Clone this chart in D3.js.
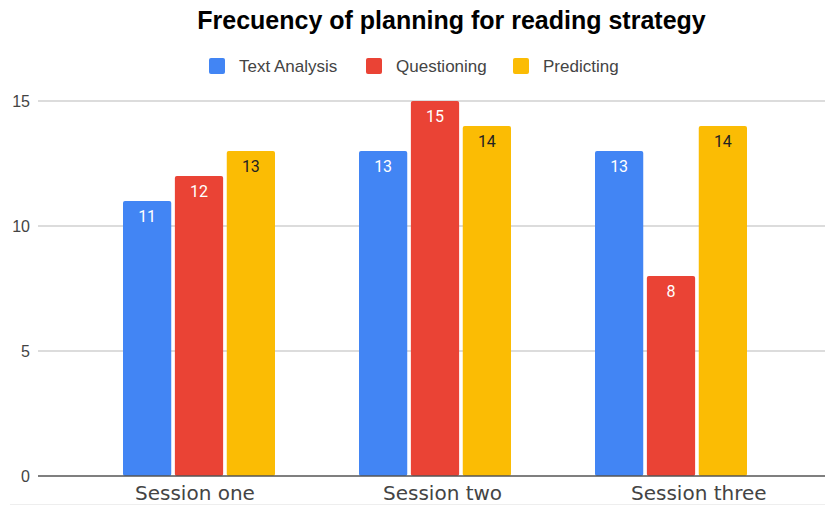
<!DOCTYPE html>
<html><head><meta charset="utf-8">
<script src="https://cdn.jsdelivr.net/npm/d3@7"></script>
<style>body{margin:0;background:#fff}svg{display:block}</style>
</head><body>
<svg id="c" width="825" height="506"></svg>
<script>
const categories = ["Session one", "Session two", "Session three"];
const seriesNames = ["Text Analysis", "Questioning", "Predicting"];
const textAnalysis = [11, 13, 13];
const questioning = [12, 15, 8];
const predicting = [13, 14, 14];
const yTicks = [0, 5, 10, 15];
const colors = ["#4285F4", "#EA4335", "#FBBC04"];
const labelColors = ["#fff", "#fff", "#222"];
const series = [textAnalysis, questioning, predicting];

const svg = d3.select("#c");
const y = d3.scaleLinear().domain([0, 15]).range([476, 101]);
const x0 = d3.scaleBand().domain(categories).range([81, 789]).padding(0);
const x1 = d3.scaleBand().domain(d3.range(3)).range([42, 194]).paddingInner(0.07);
const xLabel = d3.scalePoint().domain(categories).range([135, 631]);

// gridlines
svg.append("g").selectAll("line").data(yTicks.filter(d => d > 0)).join("line")
  .attr("x1", 38).attr("x2", 825).attr("y1", d => y(d)).attr("y2", d => y(d))
  .attr("stroke", "#d0d0d0").attr("stroke-width", 1.3);

// y tick labels
svg.append("g").selectAll("text").data(yTicks).join("text")
  .attr("x", 30).attr("y", d => y(d) + 6).attr("text-anchor", "end")
  .attr("font-family", "'Liberation Sans', Arial, sans-serif").attr("font-size", 16).attr("fill", "#444")
  .text(d => d);

// bars
const groups = svg.append("g").selectAll("g").data(categories).join("g")
  .attr("transform", c => `translate(${x0(c)},0)`);
groups.each(function(c, ci) {
  const g = d3.select(this);
  series.forEach((s, si) => {
    const v = s[ci];
    g.append("rect").attr("x", x1(si)).attr("width", x1.bandwidth())
      .attr("y", y(v)).attr("height", y(0) - y(v)).attr("rx", 2)
      .attr("fill", colors[si]);
    g.append("text").attr("x", x1(si) + x1.bandwidth() / 2).attr("y", y(v) + 21)
      .attr("text-anchor", "middle").attr("font-family", "Roboto, Arial, sans-serif")
      .attr("font-size", 16).attr("fill", labelColors[si]).text(v);
  });
});

// baseline
svg.append("line").attr("x1", 38).attr("x2", 825).attr("y1", y(0)).attr("y2", y(0))
  .attr("stroke", "#555").attr("stroke-width", 1.5);

// x labels
svg.append("g").selectAll("text").data(categories).join("text")
  .attr("x", c => xLabel(c)).attr("y", 500).attr("text-anchor", "start")
  .attr("font-family", "'DejaVu Sans', sans-serif").attr("font-size", 20).attr("fill", "#444")
  .text(c => c);

// bottom faint line
svg.append("line").attr("x1", 10).attr("x2", 825).attr("y1", 504.5).attr("y2", 504.5)
  .attr("stroke", "#eee").attr("stroke-width", 1);

// title
svg.append("text").attr("x", 451.5).attr("y", 29).attr("text-anchor", "middle")
  .attr("font-family", "'Liberation Sans', Arial, sans-serif").attr("font-weight", "bold")
  .attr("font-size", 25).attr("fill", "#000").text("Frecuency of planning for reading strategy");

// legend
const legX = [209, 366, 513];
const leg = svg.append("g").selectAll("g").data(seriesNames).join("g")
  .attr("transform", (d, i) => `translate(${legX[i]},58)`);
leg.append("rect").attr("width", 16).attr("height", 16).attr("rx", 2).attr("fill", (d, i) => colors[i]);
leg.append("text").attr("x", 30).attr("y", 14).attr("font-family", "'Liberation Sans', Arial, sans-serif")
  .attr("font-size", 17).attr("fill", "#444").text(d => d);
</script>
</body></html>
